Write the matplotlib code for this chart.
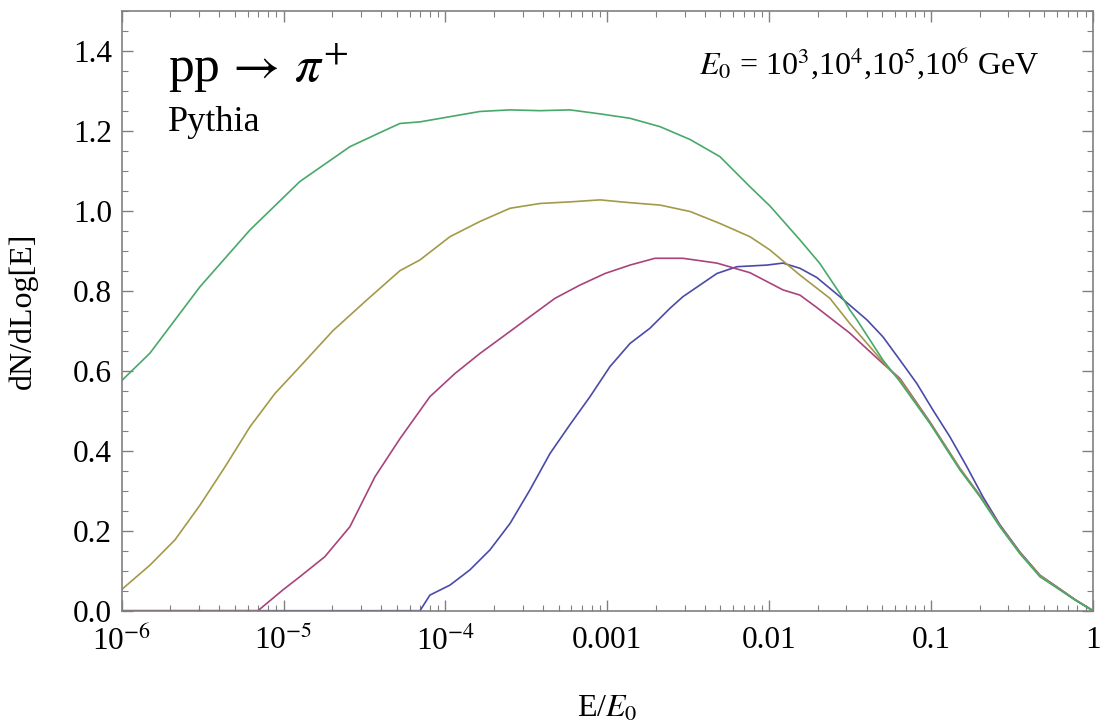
import numpy as np
import matplotlib.pyplot as plt
from matplotlib.ticker import FixedLocator, NullFormatter

plt.rcParams['font.family'] = ['Liberation Serif', 'DejaVu Serif']
plt.rcParams['mathtext.fontset'] = 'stix'

# log10(E/E0) positions and dN/dLog[E] values
green_logx = [-6.0, -5.825, -5.516, -5.207, -4.899, -4.590, -4.405, -4.281, -4.157, -3.972,
              -3.787, -3.601, -3.416, -3.231, -3.045, -2.860, -2.674, -2.489, -2.304, -2.119,
              -1.996, -1.810, -1.687, -1.563, -1.502, -1.458, -1.298, -1.193, -1.007, -0.822,
              -0.698, -0.575, -0.452, -0.328, -0.204, -0.112, 0.0]
green_y = [0.575, 0.644, 0.81, 0.952, 1.073, 1.16, 1.195, 1.218, 1.222, 1.235,
           1.248, 1.252, 1.25, 1.252, 1.242, 1.231, 1.21, 1.178, 1.135, 1.06,
           1.012, 0.927, 0.868, 0.793, 0.752, 0.727, 0.627, 0.573, 0.468, 0.352,
           0.285, 0.21, 0.143, 0.085, 0.052, 0.027, 0.0]

olive_logx = [-6.0, -5.825, -5.671, -5.516, -5.361, -5.207, -5.053, -4.899, -4.695, -4.485,
              -4.281, -4.157, -3.972, -3.787, -3.601, -3.416, -3.231, -3.045, -2.860, -2.674,
              -2.489, -2.304, -2.119, -1.996, -1.810, -1.625, -1.502, -1.378, -1.254, -1.193,
              -1.007, -0.822, -0.698, -0.575, -0.452, -0.328, -0.204, -0.112, 0.0]
olive_y = [0.053, 0.114, 0.177, 0.264, 0.36, 0.46, 0.543, 0.61, 0.70, 0.777,
           0.85, 0.877, 0.935, 0.973, 1.006, 1.018, 1.022, 1.027, 1.02, 1.014,
           0.998, 0.968, 0.935, 0.902, 0.839, 0.781, 0.718, 0.66, 0.602, 0.578,
           0.47, 0.355, 0.287, 0.212, 0.145, 0.088, 0.053, 0.028, 0.0]

magenta_logx = [-6.0, -5.158, -5.004, -4.899, -4.745, -4.590, -4.435, -4.281, -4.096, -3.941,
                -3.787, -3.632, -3.478, -3.323, -3.169, -3.014, -2.860, -2.706, -2.533, -2.323,
                -2.119, -1.915, -1.810, -1.706, -1.502, -1.298, -1.193, -1.007, -0.822, -0.698,
                -0.575, -0.452, -0.328, -0.204, -0.112, 0.0]
magenta_y = [0.0, 0.0, 0.052, 0.085, 0.135, 0.21, 0.335, 0.43, 0.535, 0.593,
             0.643, 0.689, 0.735, 0.781, 0.814, 0.843, 0.864, 0.881, 0.881, 0.869,
             0.845, 0.802, 0.789, 0.758, 0.694, 0.618, 0.581, 0.472, 0.356, 0.288,
             0.213, 0.146, 0.088, 0.054, 0.028, 0.0]

blue_logx = [-6.0, -4.157, -4.096, -3.972, -3.849, -3.725, -3.601, -3.478, -3.354, -3.231,
             -3.107, -2.984, -2.860, -2.737, -2.613, -2.533, -2.323, -2.199, -2.014, -1.915,
             -1.810, -1.706, -1.563, -1.396, -1.298, -1.193, -1.088, -0.989, -0.884, -0.779,
             -0.680, -0.575, -0.452, -0.328, -0.204, -0.112, 0.0]
blue_y = [0.0, 0.0, 0.039, 0.064, 0.102, 0.152, 0.218, 0.302, 0.393, 0.465,
          0.535, 0.61, 0.668, 0.706, 0.756, 0.785, 0.843, 0.86, 0.864, 0.869,
          0.856, 0.833, 0.785, 0.727, 0.685, 0.627, 0.568, 0.502, 0.435, 0.36,
          0.285, 0.215, 0.147, 0.089, 0.054, 0.028, 0.0]

xtick_vals = [1e-6, 1e-5, 1e-4, 1e-3, 1e-2, 1e-1, 1]
xtick_labels = [r'10$^{-6}$', r'10$^{-5}$', r'10$^{-4}$', '0.001', '0.01', '0.1', '1']
ytick_vals = [0.0, 0.2, 0.4, 0.6, 0.8, 1.0, 1.2, 1.4]

fig = plt.figure(figsize=(11.05, 7.26), dpi=100)
ax = fig.add_axes([0.1101, 0.1588, 0.8790, 0.8265])

ax.plot(10 ** np.array(blue_logx), blue_y, color='#4a4aa8', lw=1.2)
ax.plot(10 ** np.array(magenta_logx), magenta_y, color='#a8437c', lw=1.2)
ax.plot(10 ** np.array(olive_logx), olive_y, color='#a39a48', lw=1.2)
ax.plot(10 ** np.array(green_logx), green_y, color='#48a86a', lw=1.2)

ax.set_xscale('log')
ax.set_xlim(1e-6, 1)
ax.set_ylim(0, 1.5)

ax.xaxis.set_major_locator(FixedLocator(xtick_vals))
ax.set_xticklabels(xtick_labels)
minors = [m * 10.0 ** e for e in range(-6, 0) for m in range(2, 10)]
ax.xaxis.set_minor_locator(FixedLocator(minors))
ax.xaxis.set_minor_formatter(NullFormatter())
ax.set_yticks(ytick_vals)
ax.set_yticklabels(['%.1f' % v for v in ytick_vals])
ax.yaxis.set_minor_locator(FixedLocator(np.arange(0, 1.51, 0.05)))

ax.tick_params(which='both', direction='in', top=True, right=True, color='#808080',
               labelsize=22.5, labelcolor='black')
ax.tick_params(which='major', length=8, width=1)
ax.tick_params(which='minor', length=4, width=0.8)
ax.tick_params(axis='x', pad=11)
ax.tick_params(axis='y', pad=7)
for s in ax.spines.values():
    s.set_color('#808080')
    s.set_linewidth(1.2)

ax.set_xlabel(r'E/$E_0$', fontsize=23, labelpad=27)
ax.set_ylabel('dN/dLog[E]', fontsize=23, labelpad=25)

ax.text(0.0477, 0.881, r'pp$\,\rightarrow\,\pi^{+}$', transform=ax.transAxes, fontsize=37)
ax.text(0.0477, 0.80, 'Pythia', transform=ax.transAxes, fontsize=26)
ax.text(0.9455, 0.8955, r'$E_0$ = 10$^3$,10$^4$,10$^5$,10$^6$ GeV', transform=ax.transAxes,
        fontsize=23, ha='right')

fig.savefig('out.png', dpi=100)
